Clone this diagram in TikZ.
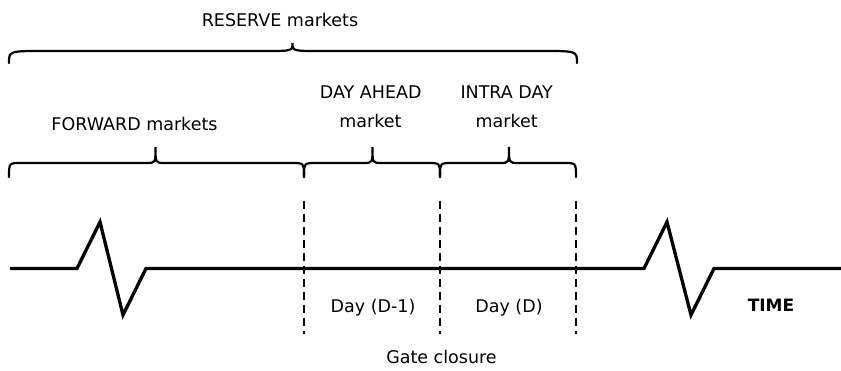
\documentclass[tikz,border=0pt]{standalone}
\usepackage{fontspec}
\setmainfont{DejaVu Sans}
\newcommand\mkbrace[8]{% x1, x2, xtip, yend, yhor, ytip, endw, tipw
  \draw[brc] (#1,#4) .. controls (#1,#5) .. ({#1+#7},#5) -- ({#3-#8},#5)
    .. controls (#3,#5) .. (#3,#6) .. controls (#3,#5) .. ({#3+#8},#5)
    -- ({#2-#7},#5) .. controls (#2,#5) .. (#2,#4);}
\tikzset{
  lbl/.style={anchor=base, inner sep=0pt, font=\fontsize{17.5}{21}\selectfont},
  tline/.style={line width=3.3pt, line join=miter},
  gate/.style={line width=2pt, dash pattern=on 8pt off 5pt},
  brc/.style={line width=2.2pt, line cap=round},
}
\begin{document}
\begin{tikzpicture}[x=1pt, y=-1pt]
\useasboundingbox (0,0) rectangle (841,371);
% timeline
\coordinate (t0) at (10,268.5);
\coordinate (t1) at (77,268.5);
\coordinate (t2) at (100,222);
\coordinate (t3) at (123,315);
\coordinate (t4) at (146,268.5);
\coordinate (t5) at (644,268.5);
\coordinate (t6) at (667,222);
\coordinate (t7) at (691,315);
\coordinate (t8) at (714,268.5);
\coordinate (t9) at (841,268.5);
\draw[tline] (t0) -- (t1) -- (t2) -- (t3) -- (t4) -- (t5) -- (t6) -- (t7) -- (t8) -- (t9);
% gate lines
\coordinate (g1a) at (304,201); \coordinate (g1b) at (304,334);
\coordinate (g2a) at (440,201); \coordinate (g2b) at (440,334);
\coordinate (g3a) at (576,201); \coordinate (g3b) at (576,334);
\draw[gate] (g1a) -- (g1b);
\draw[gate] (g2a) -- (g2b);
\draw[gate] (g3a) -- (g3b);
% braces
\mkbrace{9}{577}{292.5}{63}{51}{43}{35}{28}
\mkbrace{9}{304}{155.5}{177}{163}{147}{12}{9}
\mkbrace{304}{440}{372.5}{177}{163}{147}{12}{9}
\mkbrace{440}{576}{509}{177}{163}{147}{12}{9}
% labels
\node[lbl] (res) at (280,27) {RESERVE markets};
\node[lbl] (fwd) at (134.5,131) {FORWARD markets};
\node[lbl] (da1) at (370.7,99) {DAY AHEAD};
\node[lbl] (da2) at (370.5,128) {market};
\node[lbl] (id1) at (506.7,99) {INTRA DAY};
\node[lbl] (id2) at (506.6,128) {market};
\node[lbl] (dm1) at (373,313) {Day (D-1)};
\node[lbl] (dd) at (509,313) {Day (D)};
\node[lbl, font=\fontsize{17}{20}\selectfont\bfseries] (time) at (771,312) {TIME};
\node[lbl] (gc) at (441.5,363) {Gate closure};
\end{tikzpicture}
\end{document}
